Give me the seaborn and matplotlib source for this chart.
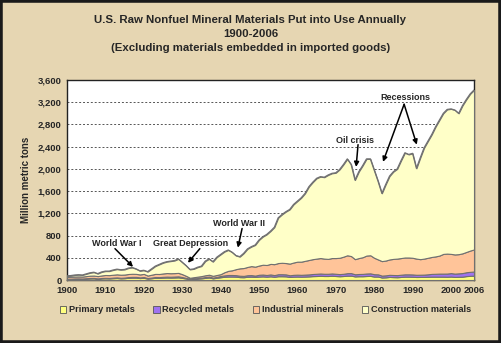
import numpy as np
import pandas as pd
import matplotlib
matplotlib.use("Agg")
import matplotlib.pyplot as plt
from matplotlib.patches import Patch, Rectangle
import seaborn as sns

years = list(range(1900, 2007))

primary_metals = [
    18, 19, 22, 23, 21, 25, 28, 29, 22, 28,
    30, 28, 33, 36, 30, 33, 40, 42, 42, 35,
    40, 25, 32, 40, 38, 42, 45, 43, 45, 48,
    38, 27, 15, 20, 25, 30, 38, 45, 30, 40,
    50, 58, 62, 62, 60, 52, 50, 58, 60, 55,
    62, 65, 60, 66, 58, 68, 68, 66, 55, 60,
    62, 60, 62, 65, 70, 72, 75, 72, 72, 76,
    72, 68, 72, 78, 78, 65, 68, 68, 72, 74,
    62, 62, 45, 48, 55, 52, 50, 55, 60, 60,
    58, 54, 55, 55, 58, 60, 60, 60, 60, 58,
    62, 55, 58, 60, 70, 75, 78,
]

recycled_metals = [
    5, 5, 6, 6, 6, 7, 8, 8, 7, 8,
    9, 9, 10, 11, 10, 11, 13, 14, 14, 12,
    14, 10, 12, 14, 14, 15, 16, 16, 17, 18,
    15, 11, 8, 9, 10, 12, 15, 17, 13, 16,
    22, 25, 28, 28, 27, 25, 24, 28, 28, 24,
    32, 33, 30, 34, 30, 36, 36, 35, 30, 33,
    34, 33, 35, 36, 38, 40, 42, 40, 40, 42,
    40, 38, 40, 45, 46, 38, 40, 42, 45, 46,
    42, 40, 34, 36, 38, 38, 38, 40, 42, 42,
    42, 40, 40, 42, 45, 50, 52, 55, 55, 58,
    62, 60, 62, 65, 70, 72, 75,
]

industrial_minerals = [
    32, 34, 34, 35, 35, 38, 42, 43, 41, 46,
    51, 51, 52, 55, 55, 54, 55, 56, 54, 53,
    56, 45, 51, 56, 56, 61, 64, 63, 62, 62,
    52, 37, 17, 21, 25, 28, 32, 33, 32, 34,
    33, 57, 75, 85, 108, 133, 141, 149, 162, 161,
    166, 177, 180, 190, 197, 201, 206, 204, 210, 222,
    234, 237, 248, 259, 267, 273, 278, 273, 268, 277,
    283, 294, 308, 322, 306, 272, 287, 300, 323, 325,
    296, 268, 261, 266, 277, 290, 297, 300, 303, 303,
    300, 291, 280, 288, 297, 305, 313, 325, 355, 359,
    346, 345, 345, 355, 365, 383, 397,
]

construction_materials = [
    20, 22, 28, 31, 28, 40, 52, 60, 45, 63,
    70, 72, 85, 93, 90, 92, 107, 113, 90, 65,
    65, 70, 105, 140, 172, 192, 205, 218, 226, 252,
    215, 185, 150, 150, 170, 180, 255, 285, 255, 320,
    355, 370, 375, 325, 245, 210, 265, 325, 350, 390,
    460, 505, 550, 590, 665, 815, 870, 925, 975, 1045,
    1090, 1150, 1215, 1320, 1385, 1445, 1465, 1465, 1510, 1525,
    1535, 1590, 1660, 1735, 1650, 1425, 1555, 1650, 1740, 1735,
    1580, 1410, 1220, 1370, 1500, 1570, 1615, 1755, 1885, 1855,
    1880, 1625, 1825, 1995, 2100, 2205, 2335, 2440, 2530, 2595,
    2610, 2600, 2535, 2660, 2745, 2820, 2870,
]

series_names = ["Primary metals", "Recycled metals", "Industrial minerals", "Construction materials"]
series_colors = ["#FFFF80", "#9F72F0", "#FFC499", "#FFFFC8"]

x_ticks = [1900, 1910, 1920, 1930, 1940, 1950, 1960, 1970, 1980, 1990, 2000, 2006]
y_ticks = [0, 400, 800, 1200, 1600, 2000, 2400, 2800, 3200, 3600]

annotations = [
    ("World War I", (1913.0, 655), [((1912.5, 564), (1917.2, 236))]),
    ("Great Depression", (1932.3, 655), [((1934.6, 564), (1931.5, 309))]),
    ("World War II", (1944.8, 1018), [((1945.6, 927), (1944.5, 582))]),
    ("Oil crisis", (1975.0, 2509), [((1975.8, 2436), (1975.3, 2036))]),
    ("Recessions", (1988.0, 3290), [((1987.8, 3163), (1982.3, 2127)),
                                     ((1987.8, 3163), (1991.1, 2436))]),
]

df = pd.DataFrame({
    "year": years,
    "Primary metals": primary_metals,
    "Recycled metals": recycled_metals,
    "Industrial minerals": industrial_minerals,
    "Construction materials": construction_materials,
})

sns.set_theme(style="white")
plt.rcParams["font.family"] = ["Liberation Sans", "DejaVu Sans"]
plt.rcParams["font.weight"] = "bold"

bg = "#E6D6B2"
fig = plt.figure(figsize=(5.01, 3.43), dpi=100, facecolor=bg)
ax = fig.add_axes([67 / 501, 1 - 280 / 343, (474 - 67) / 501, (280 - 80) / 343])
ax.set_facecolor("white")

ax.stackplot(df["year"], [df[n] for n in series_names], colors=series_colors,
             edgecolor="#707070", linewidth=0.8, zorder=3)

cum = df[series_names].cumsum(axis=1)
top = pd.DataFrame({"year": df["year"], "value": cum["Construction materials"]})
sns.lineplot(data=top, x="year", y="value", color="#707070", linewidth=0.9, ax=ax, zorder=4)

ax.set_xlim(1900, 2006)
ax.set_ylim(0, 3600)
ax.set_xticks(x_ticks)
ax.set_xticklabels([str(t) for t in x_ticks], fontsize=6.8, fontweight="bold")
ax.set_yticks(y_ticks)
ax.set_yticklabels([f"{t:,}" for t in y_ticks], fontsize=6.8, fontweight="bold")
ax.tick_params(axis="both", length=0, pad=4)
ax.set_xlabel("")
ax.set_ylabel("Million metric tons", fontsize=7, fontweight="bold", labelpad=5)
ax.yaxis.grid(True, linestyle=(0, (2, 2)), color="#555555", linewidth=0.7, zorder=1)
ax.xaxis.grid(False)
ax.set_axisbelow(True)
for s in ax.spines.values():
    s.set_color("#222222")
    s.set_linewidth(1.0)
    s.set_visible(True)

for label, txt_xy, arrows in annotations:
    ax.text(txt_xy[0], txt_xy[1], label, ha="center", va="center",
            fontsize=6.5, fontweight="bold", zorder=6)
    for start, end in arrows:
        ax.annotate("", xy=end, xytext=start,
                    arrowprops=dict(arrowstyle="-|>", color="black", lw=1.1,
                                    mutation_scale=7, shrinkA=0, shrinkB=0),
                    zorder=6)

fig.text(0.5, 1 - 20 / 343, "U.S. Raw Nonfuel Mineral Materials Put into Use Annually",
         ha="center", va="center", fontsize=8.2, fontweight="bold")
fig.text(0.5, 1 - 34 / 343, "1900-2006", ha="center", va="center",
         fontsize=8.2, fontweight="bold")
fig.text(0.5, 1 - 48 / 343, "(Excluding materials embedded in imported goods)",
         ha="center", va="center", fontsize=8.2, fontweight="bold")

handles = [Patch(facecolor=c, edgecolor="#555555", linewidth=0.6) for c in series_colors]
leg = fig.legend(handles, series_names, loc="center", bbox_to_anchor=(0.53, 1 - 310 / 343),
                 ncol=4, frameon=False, fontsize=6.6, handlelength=0.7, handleheight=0.7,
                 handletextpad=0.3, columnspacing=2.0)
for t in leg.get_texts():
    t.set_fontweight("bold")

fig.patches.append(Rectangle((0, 0), 1, 1, transform=fig.transFigure, fill=False,
                             edgecolor="#1a1a1a", linewidth=4, zorder=10))

fig.savefig("out.png", dpi=100, facecolor=bg)
